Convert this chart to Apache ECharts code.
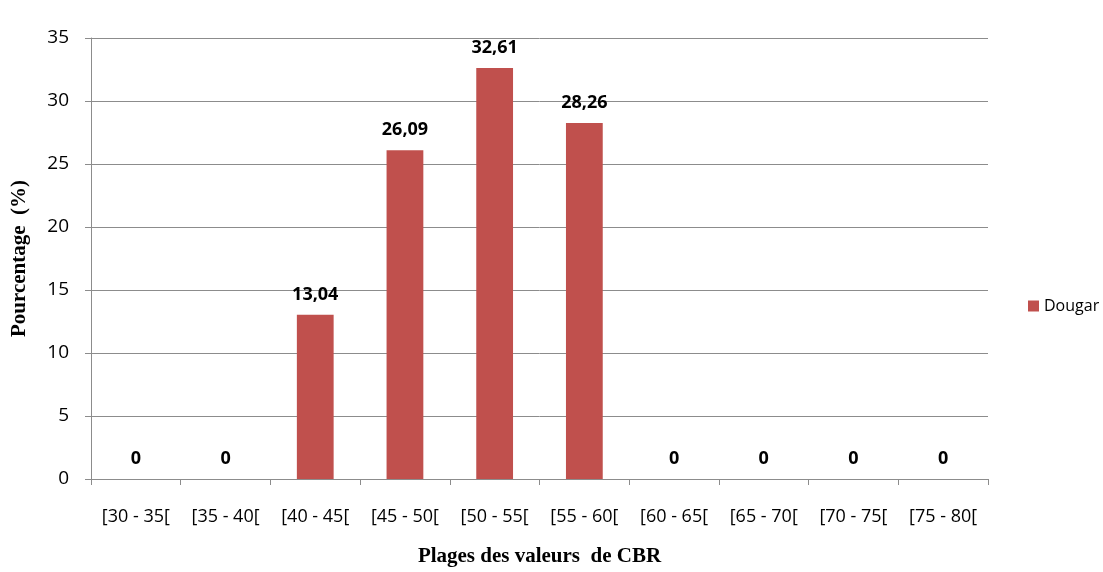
<!DOCTYPE html>
<html lang="fr">
<head>
    <meta charset="UTF-8">
    <title>Plages des valeurs de CBR</title>
    <style>
        body { margin: 0; background: #fff; }
        #chart { width: 1103px; height: 572px; }
    </style>
    <script src="https://cdn.jsdelivr.net/npm/echarts@6/dist/echarts.min.js"></script>
</head>
<body>
<div id="chart"></div>
<script>
    // Data
    var categories = ['[30 - 35[', '[35 - 40[', '[40 - 45[', '[45 - 50[', '[50 - 55[',
                      '[55 - 60[', '[60 - 65[', '[65 - 70[', '[70 - 75[', '[75 - 80['];
    var dougar = [0, 0, 13.04, 26.09, 32.61, 28.26, 0, 0, 0, 0];

    var chart = echarts.init(document.getElementById('chart'));
    var gridColor = '#8c8c8c';
    var sans = '"Open Sans", "Liberation Sans", sans-serif';
    var serif = '"Liberation Serif", "DejaVu Serif", serif';

    chart.setOption({
        animation: false,
        grid: { left: 91, top: 38, right: 115, bottom: 93, outerBoundsMode: 'none', containLabel: false },
        legend: {
            data: ['Dougar'],
            orient: 'vertical',
            left: 1023,
            top: 293,
            icon: 'rect',
            itemWidth: 11,
            itemHeight: 11,
            itemGap: 6,
            textStyle: { fontFamily: sans, fontSize: 16, color: '#000' }
        },
        xAxis: {
            type: 'category',
            data: categories,
            name: 'Plages des valeurs  de CBR',
            nameLocation: 'middle',
            nameGap: 67,
            nameTextStyle: { fontFamily: serif, fontWeight: 'bold', fontSize: 21, color: '#000' },
            axisLine: { lineStyle: { color: gridColor } },
            axisTick: { show: true, length: 6, lineStyle: { color: gridColor } },
            axisLabel: { fontFamily: sans, fontSize: 18, color: '#000', margin: 29, interval: 0 }
        },
        yAxis: {
            type: 'value',
            min: 0,
            max: 35,
            interval: 5,
            name: 'Pourcentage  (%)',
            nameLocation: 'middle',
            nameGap: 61,
            nameTextStyle: { fontFamily: serif, fontWeight: 'bold', fontSize: 21, color: '#000' },
            axisLine: { show: true, lineStyle: { color: gridColor } },
            axisTick: { show: true, length: 6, lineStyle: { color: gridColor } },
            axisLabel: { fontFamily: sans, fontSize: 19, color: '#000', margin: 22 },
            splitLine: { lineStyle: { color: gridColor } }
        },
        series: [{
            name: 'Dougar',
            type: 'bar',
            data: dougar,
            barWidth: '41%',
            itemStyle: { color: '#C0504D' },
            label: {
                show: true,
                position: 'top',
                distance: 11,
                fontFamily: sans,
                fontWeight: 'bold',
                fontSize: 18,
                color: '#000',
                formatter: function (p) {
                    return p.value === 0 ? '0' : p.value.toFixed(2).replace('.', ',');
                }
            }
        }]
    });
</script>
</body>
</html>
